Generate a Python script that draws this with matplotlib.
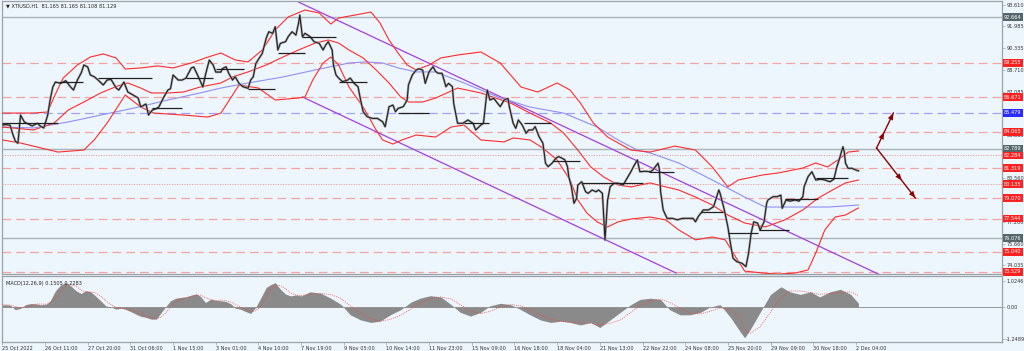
import matplotlib
matplotlib.use("Agg")
import matplotlib.pyplot as plt
import numpy as np
import pandas as pd

# ---------------- data ----------------
symbol = "XTIUSD,H1"
last_ohlc = [81.165, 81.165, 81.108, 81.129]

time_labels = ["25 Oct 2022", "26 Oct 11:00", "27 Oct 20:00", "31 Oct 06:00", "1 Nov 15:00",
               "3 Nov 01:00", "4 Nov 10:00", "7 Nov 19:00", "9 Nov 05:00", "10 Nov 14:00",
               "11 Nov 23:00", "15 Nov 09:00", "16 Nov 18:00", "18 Nov 04:00", "21 Nov 13:00",
               "22 Nov 22:00", "24 Nov 08:00", "25 Nov 20:00", "29 Nov 09:00", "30 Nov 18:00",
               "2 Dec 04:00"]
bars_per_label = 33

price_bar = [0, 3, 6, 8, 10, 12, 13, 14, 17, 20, 23, 27, 30, 32, 35, 37, 39, 41, 45, 49,
             53, 55, 58, 61, 63, 66, 68, 71, 74, 78, 81, 84, 88, 90, 94, 97, 101, 105, 107, 111,
             113, 116, 119, 121, 125, 128, 130, 132, 136, 139, 142, 146, 148, 152, 155, 157, 160, 163, 165, 169,
             170, 173, 175, 178, 180, 183, 186, 190, 192, 194, 196, 198, 201, 204, 206, 209, 211, 213, 215, 219,
             221, 224, 227, 229, 230, 232, 234, 238, 241, 245, 248, 250, 252, 255, 256, 258, 260, 263, 267, 269,
             272, 275, 277, 279, 282, 286, 290, 294, 296, 299, 302, 304, 306, 310, 313, 314, 317, 320, 322, 325,
             327, 330, 333, 335, 337, 340, 343, 345, 348, 349, 352, 356, 360, 364, 366, 370, 372, 374, 375, 377,
             380, 383, 385, 388, 391, 392, 395, 397, 399, 402, 405, 407, 410, 412, 415, 418, 419, 420, 422, 425,
             428, 430, 433, 435, 437, 438, 440, 442, 444, 445, 448, 451, 453, 456, 459, 461, 464, 465, 466, 468,
             470, 473, 476, 480, 483, 486, 488, 491, 493, 497, 501, 503, 507, 508, 509, 511, 514, 518, 522, 526,
             530, 534, 536, 538, 542, 546, 550, 554, 555, 558, 561, 563, 565, 568, 572, 575, 577, 579, 581, 584,
             586, 589, 591, 592, 596, 599, 602, 603, 606, 609, 613, 616, 619, 620, 623, 626, 629, 633, 636, 640,
             643, 645, 647, 650, 651, 652, 654, 657, 660, 662]
price_close = [84.57, 84.60, 84.55, 83.90, 83.36, 83.20, 84.20, 85.32, 84.80, 84.65, 84.50, 84.70, 84.45, 84.35, 85.30, 86.50, 87.43, 87.80, 87.70, 87.90,
               87.40, 87.20, 87.95, 88.50, 89.08, 88.93, 88.33, 88.20, 87.95, 87.58, 87.95, 88.00, 87.35, 87.20, 87.80, 87.05, 86.83, 86.60, 85.93, 86.15,
               85.32, 85.70, 85.80, 85.93, 86.70, 87.20, 87.30, 88.33, 87.95, 87.95, 88.10, 88.85, 88.93, 88.10, 87.43, 88.33, 89.45, 89.08, 88.55, 88.55,
               88.80, 88.95, 88.46, 87.95, 88.20, 87.70, 87.45, 87.33, 87.95, 88.20, 89.20, 89.50, 89.96, 91.09, 91.58, 91.46, 91.96, 90.21, 90.71, 90.83,
               91.21, 91.58, 91.33, 92.21, 92.83, 91.21, 91.46, 91.21, 90.83, 90.71, 90.21, 90.58, 90.83, 90.21, 89.08, 88.33, 88.10, 87.83, 87.95, 88.10,
               87.70, 87.45, 86.45, 85.57, 85.20, 85.07, 85.07, 84.82, 84.44, 85.95, 86.07, 85.57, 85.82, 85.95, 86.45, 87.58, 88.33, 88.70, 88.80, 88.70,
               87.70, 88.58, 88.95, 88.60, 88.46, 88.46, 87.45, 87.70, 87.45, 86.20, 84.70, 84.70, 84.95, 84.70, 84.20, 84.57, 84.70, 86.45, 87.20, 86.45,
               86.57, 86.20, 85.95, 86.45, 86.57, 85.95, 84.70, 84.32, 84.95, 84.57, 83.95, 84.20, 84.20, 84.45, 83.70, 83.20, 82.45, 81.70, 81.44, 81.70,
               82.07, 82.20, 82.07, 81.95, 81.44, 80.69, 79.94, 78.69, 79.06, 80.06, 80.31, 79.56, 79.44, 79.69, 79.56, 79.69, 79.44, 77.68, 75.93, 78.93,
               79.94, 80.19, 80.20, 80.06, 80.56, 81.06, 81.44, 81.95, 81.06, 81.10, 81.06, 81.19, 81.70, 81.30, 79.56, 78.19, 77.56, 77.56, 77.45, 77.56,
               77.56, 77.56, 77.30, 77.68, 78.19, 78.19, 78.44, 79.69, 79.44, 78.31, 76.93, 75.68, 74.56, 74.30, 74.18, 73.93, 74.93, 76.43, 77.30, 77.20,
               76.68, 77.30, 78.69, 78.94, 79.19, 79.19, 79.30, 78.31, 78.94, 78.85, 78.94, 78.85, 79.19, 79.94, 80.69, 81.06, 80.44, 80.50, 80.44, 80.31,
               80.50, 81.32, 81.94, 82.94, 82.57, 81.70, 81.32, 81.32, 81.19, 81.129]

bb_upper_bar = [0, 24, 35, 40, 47, 58, 68, 78, 88, 95, 107, 120, 132, 146, 159, 169, 180, 190, 201, 211,
                221, 234, 245, 254, 260, 273, 285, 292, 299, 306, 313, 320, 330, 339, 352, 370, 385, 401, 414, 429,
                439, 447, 457, 468, 486, 501, 520, 536, 549, 561, 569, 588, 600, 619, 629, 638, 646, 654, 662]
bb_upper = [85.47, 85.47, 85.55, 86.68, 88.10, 89.08, 89.68, 89.91, 89.61, 88.78, 88.86, 89.01, 88.86, 89.23, 89.68, 89.98, 89.46, 89.31, 90.21, 91.71,
            92.69, 93.21, 92.99, 92.16, 92.61, 92.84, 93.06, 92.24, 90.96, 89.98, 89.08, 88.71, 89.08, 89.61, 89.83, 90.06, 89.23, 87.43, 87.05, 87.73,
            87.20, 86.22, 84.72, 83.67, 82.69, 82.54, 82.99, 82.69, 81.42, 79.92, 80.44, 80.82, 80.97, 81.34, 81.72, 81.42, 81.94, 82.54, 82.62]

bb_mid_bar = [0, 24, 40, 51, 63, 76, 89, 97, 107, 115, 128, 140, 153, 169, 178, 190, 204, 217, 229, 242,
              252, 260, 268, 279, 289, 299, 308, 314, 325, 335, 352, 370, 393, 408, 424, 434, 445, 455, 465, 476,
              486, 501, 513, 523, 536, 549, 561, 574, 590, 605, 619, 631, 642, 652, 662]
bb_mid = [84.42, 84.20, 84.72, 85.70, 86.30, 86.98, 87.50, 87.73, 87.35, 86.98, 86.98, 87.05, 87.43, 87.73, 88.18, 88.56, 89.08, 89.68, 90.21, 90.73,
          90.96, 90.73, 90.21, 89.61, 88.71, 87.73, 86.68, 86.30, 86.30, 86.60, 87.35, 86.98, 86.22, 85.47, 84.72, 83.97, 82.69, 81.42, 80.67, 80.07,
          79.92, 80.22, 79.92, 79.69, 79.16, 78.56, 77.81, 77.21, 76.91, 77.44, 78.19, 79.09, 79.69, 80.22, 80.44]

bb_lower_bar = [0, 14, 43, 63, 71, 81, 89, 95, 107, 117, 140, 159, 169, 183, 198, 211, 229, 234, 240, 248,
                254, 260, 268, 279, 289, 294, 302, 309, 320, 335, 347, 357, 370, 388, 395, 408, 418, 429, 439, 445,
                452, 460, 468, 476, 486, 501, 513, 523, 536, 549, 559, 567, 574, 588, 600, 613, 623, 629, 636, 644,
                652, 662]
bb_lower = [83.45, 83.22, 82.54, 82.69, 83.45, 84.72, 85.92, 86.83, 85.92, 85.47, 85.32, 85.17, 85.47, 87.58, 87.35, 86.45, 86.60, 86.68, 87.95, 89.23,
            89.68, 89.08, 87.43, 85.92, 84.20, 83.45, 83.14, 83.45, 83.82, 83.67, 84.42, 84.57, 83.45, 83.30, 83.60, 83.45, 82.84, 81.94, 80.44, 78.94,
            77.96, 77.29, 76.91, 77.29, 77.51, 77.66, 77.44, 76.69, 75.94, 76.16, 75.94, 74.66, 73.60, 73.45, 73.37, 73.45, 73.68, 74.96, 76.69, 77.66,
            77.81, 78.34]

ma_bar = [0, 24, 37, 51, 76, 102, 128, 153, 169, 190, 217, 242, 268, 281, 294, 306, 320, 335, 357, 383,
          408, 434, 460, 476, 491, 501, 523, 549, 574, 590, 613, 639, 662]
ma_value = [84.42, 84.35, 84.57, 84.80, 85.32, 85.85, 86.45, 86.98, 87.35, 87.73, 88.18, 88.71, 89.23, 89.31, 89.23, 88.86, 88.56, 88.56, 87.73, 86.68,
            85.92, 85.47, 84.42, 83.45, 82.69, 82.47, 81.72, 80.44, 79.16, 78.41, 78.41, 78.41, 78.56]

seg_start = [0, 44, 74, 116, 142, 165, 190, 213, 232, 260, 306, 357, 403, 426, 448, 500, 540, 561, 585, 605, 629]
seg_end = [43, 62, 116, 139, 163, 187, 211, 234, 258, 282, 330, 376, 424, 447, 495, 519, 557, 584, 608, 631, 654]
seg_price = [84.74, 87.83, 88.08, 85.87, 88.13, 88.78, 87.25, 90.00, 91.16, 87.78, 85.50, 84.70, 84.70, 81.89, 80.24, 81.06, 78.06, 76.44, 76.69, 79.04, 80.57]

channel_upper_bar = [229, 679]
channel_upper = [93.81, 73.30]
channel_lower_bar = [232, 521]
channel_lower = [86.68, 73.45]

level_prices = [92.664, 89.255, 86.671, 85.479, 84.065, 82.789, 82.284, 81.319, 80.135, 79.070, 77.544, 76.076, 75.040, 73.529]
level_kind = ["gray", "red", "red", "blue", "red", "gray", "reddot", "red", "reddot", "red", "red", "gray", "red", "red"]

# price-scale labels that remain visible next to the level boxes
axis_ticks = [93.610, 91.985, 90.335, 88.710, 87.085, 83.835, 80.560, 77.260, 75.660, 74.035]

arrow_start_bar, arrow_start_price = 676, 82.84
arrow_up_bar, arrow_up_price = 689, 85.47
arrow_down_bar, arrow_down_price = 706, 79.09

macd_bar = [0, 3, 6, 10, 14, 18, 22, 26, 30, 34, 37, 41, 45, 49, 53, 57, 61, 64, 68, 72,
            76, 80, 84, 88, 92, 95, 99, 103, 107, 111, 115, 119, 122, 126, 130, 134, 138, 142, 146, 150,
            153, 157, 161, 165, 169, 173, 177, 180, 184, 188, 192, 196, 200, 204, 207, 211, 215, 219, 223, 227,
            231, 238, 246, 254, 262, 269, 277, 285, 292, 300, 308, 316, 323, 331, 339, 347, 354, 362, 370, 377,
            385, 393, 401, 408, 416, 424, 432, 439, 447, 455, 462, 470, 478, 486, 493, 501, 509, 516, 524, 532,
            540, 547, 555, 563, 571, 574, 578, 586, 594, 602, 609, 617, 625, 632, 640, 648, 656, 662]
macd_value = [0.09, 0.09, 0.08, -0.10, -0.05, 0.10, 0.14, 0.13, 0.09, 0.12, 0.25, 0.64, 0.87, 0.96, 0.83, 0.64, 0.53, 0.64, 0.61, 0.44,
              0.25, 0.05, 0.00, -0.08, -0.04, -0.08, -0.17, -0.27, -0.36, -0.40, -0.47, -0.47, -0.27, 0.00, 0.25, 0.35, 0.38, 0.40, 0.47, 0.52,
              0.43, 0.18, 0.31, 0.27, 0.25, 0.22, 0.12, -0.04, -0.08, -0.17, -0.25, 0.00, 0.38, 0.77, 0.87, 0.96, 0.70, 0.51, 0.44, 0.48,
              0.44, 0.60, 0.55, 0.35, 0.10, -0.30, -0.50, -0.60, -0.55, -0.30, -0.10, 0.20, 0.35, 0.45, 0.40, 0.10, -0.20, -0.35, -0.20, 0.05,
              0.15, 0.10, -0.10, -0.30, -0.50, -0.60, -0.55, -0.60, -0.70, -0.60, -0.80, -0.50, -0.20, 0.10, 0.30, 0.35, 0.30, -0.10, -0.30, -0.30,
              -0.20, 0.00, 0.10, -0.40, -1.00, -1.20, -0.90, -0.20, 0.50, 0.80, 0.60, 0.50, 0.60, 0.40, 0.60, 0.70, 0.50, 0.15]
macd_ticks = [1.0246, 0.0, -1.2489]
macd_last = [0.1505, 0.2283]

# ---------------- style ----------------
BG = "#eef6fd"
FRAME = "#9aa3a8"
TXT = "#333333"
FS = 3.6

fig = plt.figure(figsize=(10.24, 3.51), dpi=100, facecolor=BG)
W, H = 1024.0, 351.0
ax = fig.add_axes([2 / W, 1 - 274 / H, 1000 / W, 273 / H], facecolor=BG)
axm = fig.add_axes([2 / W, 1 - 342 / H, 1000 / W, 66 / H], facecolor=BG)

for a in (ax, axm):
    for s in a.spines.values():
        s.set_color(FRAME)
        s.set_linewidth(0.9)
    a.yaxis.tick_right()
    a.tick_params(axis="y", which="both", length=2, width=0.5, colors=FRAME,
                  labelsize=FS, labelcolor=TXT, pad=1)

xmin, xmax = -0.3, 773
ax.set_xlim(xmin, xmax)
axm.set_xlim(xmin, xmax)
ax.set_ylim(73.378, 93.889)
ax.set_xticks([])
ax.set_yticks(axis_ticks)
ax.set_yticklabels([f"{v:.3f}" for v in axis_ticks])

# levels
for p, k in zip(level_prices, level_kind):
    if k == "gray":
        ax.axhline(p, color="#aab3b8", lw=1.0, zorder=1)
        box = "#56666a"
    elif k == "red":
        ax.axhline(p, color="#f4a3a3", lw=0.9, ls=(0, (7, 4)), zorder=1)
        box = "#ff2020"
    elif k == "reddot":
        ax.axhline(p, color="#f08a8a", lw=0.7, ls=(0, (1, 1.6)), zorder=1)
        box = "#ff2020"
    else:
        ax.axhline(p, color="#a0a0f4", lw=0.9, ls=(0, (7, 4)), zorder=1)
        box = "#2a2aff"
    ax.annotate(f"{p:.3f}", xy=(1, p), xycoords=ax.get_yaxis_transform(),
                xytext=(1.5, 0), textcoords="offset points", ha="left", va="center",
                fontsize=FS, color="white", annotation_clip=False, zorder=20,
                bbox=dict(boxstyle="square,pad=0.28", fc=box, ec="none"))

# channel
ax.plot(channel_upper_bar, channel_upper, color="#a23fe0", lw=0.9, zorder=2)
ax.plot(channel_lower_bar, channel_lower, color="#a23fe0", lw=0.9, zorder=2)

# bands and MA
ax.plot(ma_bar, ma_value, color="#8f8ff5", lw=0.8, zorder=2)
ax.plot(bb_upper_bar, bb_upper, color="#ff2b2b", lw=0.8, zorder=3)
ax.plot(bb_mid_bar, bb_mid, color="#ff2b2b", lw=0.8, zorder=3)
ax.plot(bb_lower_bar, bb_lower, color="#ff2b2b", lw=0.8, zorder=3)

# price
ax.plot(price_bar, price_close, color="#9a9a9a", lw=1.6, zorder=4)
ax.plot(price_bar, price_close, color="#1a1a1a", lw=0.7, zorder=5)

# horizontal session segments
ax.hlines(seg_price, seg_start, seg_end, color="#202020", lw=0.9, zorder=5)

# arrows
ac = "#8b0000"
for eb, ep, frac in [(arrow_up_bar, arrow_up_price, 0.45), (arrow_down_bar, arrow_down_price, 0.65)]:
    ax.plot([arrow_start_bar, eb], [arrow_start_price, ep], color=ac, lw=1.0, zorder=6)
    mb = arrow_start_bar + frac * (eb - arrow_start_bar)
    mp = arrow_start_price + frac * (ep - arrow_start_price)
    for (xb, yb) in [(mb, mp), (eb, ep)]:
        ax.annotate("", xy=(xb, yb), xytext=(arrow_start_bar, arrow_start_price),
                    arrowprops=dict(arrowstyle="-|>,head_length=0.5,head_width=0.2",
                                    color=ac, lw=0.0, shrinkA=0, shrinkB=0), zorder=6)

ax.text(0.004, 0.993, "\u25bc " + symbol + "  " + " ".join(f"{v:.3f}" for v in last_ohlc),
        transform=ax.transAxes, fontsize=FS, color="#222222", va="top", ha="left")

# MACD panel
axm.set_ylim(-1.3665, 1.2206)
axm.fill_between(macd_bar, 0, macd_value, color="#8a8a8a", lw=0, zorder=2)
signal = pd.Series(macd_value).rolling(3, min_periods=1).mean()
axm.plot(macd_bar, signal, color="#ff4040", lw=0.6, ls=(0, (1, 1.5)), zorder=3)
axm.axhline(0, color="#8a8a8a", lw=0.6, zorder=1)
axm.set_yticks(macd_ticks)
axm.set_yticklabels(["1.0246", "0.00", "-1.2489"])
axm.text(0.004, 0.93, f"MACD(12,26,9) {macd_last[0]:.4f} {macd_last[1]:.4f}",
         transform=axm.transAxes, fontsize=FS, color="#222222", va="top", ha="left")

tick_pos = [i * bars_per_label for i in range(len(time_labels))]
axm.set_xticks(tick_pos)
axm.set_xticklabels(time_labels)
axm.tick_params(axis="x", length=2, width=0.5, colors=FRAME, labelsize=FS, labelcolor=TXT, pad=1)
for lab in axm.get_xticklabels():
    lab.set_horizontalalignment("left")

fig.savefig("out.png", dpi=100, facecolor=BG)
